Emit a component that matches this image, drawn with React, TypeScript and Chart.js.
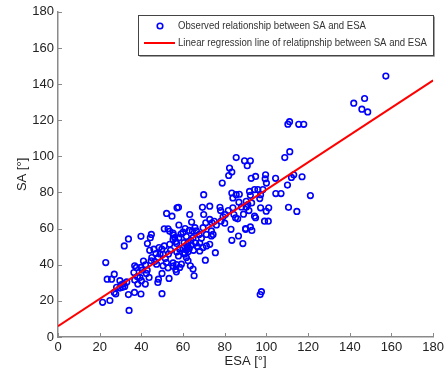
import React, { useEffect, useRef } from "react";
import { Chart, registerables } from "chart.js";

Chart.register(...registerables);

const esaValues: number[] = [
  157.3, 141.9, 147.1, 145.8, 148.6, 110.3, 111.1, 115.5, 117.9, 108.8,
  111.2, 113.1, 112, 117.1, 121.1, 110.1, 104.5, 107, 104.4, 110.6,
  114.6, 99.6, 99.4, 100, 101.1, 99.9, 99.1, 100.9, 97.2, 98.3,
  95.9, 94.3, 96.8, 94.8, 92.3, 89.5, 90.8, 92.7, 91.9, 92.3,
  90.3, 91.1, 90.3, 91.6, 92.9, 94.3, 94.8, 97.2, 90, 92.3,
  93, 88.7, 86.2, 86.6, 85.2, 83.9, 84.4, 85.5, 83.4, 83.9,
  82.3, 83.4, 81.9, 85.5, 86.8, 83, 83.4, 81.7, 78.8, 77.7,
  78.2, 79.2, 80.3, 75.5, 73.6, 74.4, 73.6, 72.8, 73.9, 72.8,
  69.9, 69.3, 69.9, 70.9, 69.6, 71.2, 68.8, 71.2, 69.6, 68,
  70.7, 72.8, 65.7, 66.4, 67.7, 63.2, 64.1, 64.5, 64.8, 63.7,
  62.4, 61.6, 60.5, 59.9, 61.6, 62.5, 60.8, 64.8, 63.5, 65.3,
  62.4, 61.6, 60.8, 58.4, 59.2, 57.8, 58.4, 57.1, 57.8, 55.2,
  56, 56.5, 55.3, 55.2, 56.9, 54.7, 52.1, 52.8, 51, 53.6,
  51, 53.6, 49.8, 48.5, 50.4, 51.5, 52, 50.4, 52.8, 55.2,
  56.8, 56.5, 55.2, 56.8, 53.3, 49.9, 48.2, 47.9, 49.9, 46,
  47, 46.4, 47.3, 44.8, 44.3, 42.9, 44.7, 43.7, 42.4, 42.8,
  41.9, 39.8, 39.8, 40.4, 39.3, 40, 39.8, 36.8, 37.6, 36.4,
  38.1, 36.8, 38.3, 36.7, 33.8, 31.8, 33.8, 34.1, 31.5, 33,
  32, 30.5, 31, 29.7, 28.1, 27, 27.7, 27, 25.7, 23.6,
  22.9, 24.9, 21.4, 29.7, 97.6, 97, 58, 59, 60, 62,
  63, 64, 66, 65, 67, 68, 45, 48, 49, 53,
  54, 57, 63, 61, 58, 75, 76, 78, 80, 88,
  89, 90, 87, 44, 41, 42,
];

const saValues: number[] = [
  144.4, 129.4, 132, 126.1, 124.6, 117.8, 119.2, 117.7, 117.7, 99.3,
  102.6, 89.8, 88.3, 88.7, 78.3, 84.1, 79.4, 79.4, 87.8, 71.8,
  69.5, 89.8, 87.6, 85.2, 71.5, 69.6, 64.1, 64.1, 78.8, 81.6,
  81.6, 81.6, 76.6, 88.9, 97.5, 97.5, 94.8, 87.8, 80.6, 78.4,
  75.1, 73.3, 71.8, 70, 74.2, 66.9, 66, 71.5, 59.6, 60.9,
  59, 51.7, 65.4, 55.9, 66, 71.5, 67.8, 78.8, 79.7, 77,
  93.5, 91.3, 89.4, 99.3, 74.6, 59.6, 53.5, 70, 85.2, 71.8,
  64.1, 66.5, 67.8, 46.7, 58.7, 56.8, 55.9, 65.1, 63.2, 72.4,
  78.8, 71.8, 67.8, 63.2, 60.5, 56.8, 54.6, 50.4, 49.5, 47.6,
  42.5, 51.3, 60.5, 58.7, 56.8, 67.8, 63.6, 58.7, 55, 53.5,
  52.2, 55.6, 52.2, 49.1, 48.2, 47.3, 46.7, 37.6, 39.4, 33.9,
  42.2, 44, 45.8, 38.5, 40.3, 44.9, 48.6, 71.5, 71.8, 57.5,
  55, 52.8, 56.5, 54, 51.8, 66.9, 68.4, 59.9, 59.9, 58.5,
  50.4, 51.3, 48.6, 49.5, 45.8, 43.4, 41.2, 39.4, 38.3, 39.2,
  40.1, 37.4, 41, 36.1, 32.4, 35.2, 32, 30.2, 24, 48.6,
  46.2, 41.8, 40.3, 56.8, 55, 51.7, 42.2, 33, 35.2, 37,
  29.3, 55.7, 38.5, 37, 33, 31.2, 23.8, 39.4, 38.5, 35.7,
  33.4, 31.5, 29.3, 24.7, 54.3, 50.4, 23.5, 14.7, 29.5, 30.5,
  28, 29, 27.5, 27.1, 27.5, 24.7, 23.8, 34.8, 32, 32,
  41.2, 20.2, 19.2, 31.2, 25.1, 23.5, 55, 57, 58, 50,
  49, 51, 52, 48, 50, 52, 44, 44, 46, 46,
  48, 47, 59, 60, 62, 64, 62, 70, 63, 72,
  68, 60, 79, 48, 42, 40,
];

const regressionX: number[] = [0, 180];
const regressionY: number[] = [6, 142];

const axisMin = 0;
const axisMax = 180;
const axisStep = 20;

const observedLabel = "Observed relationship between SA and ESA";
const regressionLabel = "Linear regression line of relatipnship between SA and ESA";
const xTitle = "ESA [°]";
const yTitle = "SA [°]";

const FONT = "'Liberation Sans', Arial, Helvetica, sans-serif";
const AXIS_COLOR = "#8a8a8a";

const innerTicksAndLegend = {
  id: "innerTicksAndLegend",
  afterDraw(chart: any) {
    const ctx = chart.ctx;
    const xs = chart.scales.x;
    const ys = chart.scales.y;
    const area = chart.chartArea;
    ctx.save();
    ctx.strokeStyle = AXIS_COLOR;
    ctx.lineWidth = 1;
    ctx.beginPath();
    xs.ticks.forEach((t: any) => {
      const px = Math.round(xs.getPixelForValue(t.value)) + 0.5;
      ctx.moveTo(px, area.bottom);
      ctx.lineTo(px, area.bottom - 4);
    });
    ys.ticks.forEach((t: any) => {
      const py = Math.round(ys.getPixelForValue(t.value)) + 0.5;
      ctx.moveTo(area.left, py);
      ctx.lineTo(area.left + 4, py);
    });
    ctx.stroke();

    // legend box
    const bx = 138.5, by = 15.5, bw = 295, bh = 40;
    ctx.fillStyle = "#ffffff";
    ctx.fillRect(bx, by, bw, bh);
    ctx.strokeStyle = "#a0a0a0";
    ctx.beginPath();
    ctx.moveTo(bx + 1, by + bh + 1);
    ctx.lineTo(bx + bw + 1, by + bh + 1);
    ctx.lineTo(bx + bw + 1, by + 1);
    ctx.stroke();
    ctx.strokeStyle = "#444444";
    ctx.strokeRect(bx, by, bw, bh);

    ctx.strokeStyle = "#0000ff";
    ctx.lineWidth = 1.6;
    ctx.beginPath();
    ctx.arc(160, 26, 2.8, 0, Math.PI * 2);
    ctx.stroke();

    ctx.strokeStyle = "#ff0000";
    ctx.lineWidth = 2;
    ctx.beginPath();
    ctx.moveTo(144, 43);
    ctx.lineTo(175, 43);
    ctx.stroke();

    ctx.fillStyle = "#333333";
    ctx.font = "10px " + FONT;
    ctx.textBaseline = "middle";
    ctx.textAlign = "left";
    ctx.fillText(observedLabel, 178, 26, 188);
    ctx.fillText(regressionLabel, 178, 43, 249);
    ctx.restore();
  },
};

export default function App() {
  const canvasRef = useRef<HTMLCanvasElement | null>(null);

  useEffect(() => {
    const canvas = canvasRef.current;
    if (!canvas) return;
    const points = esaValues.map((x, i) => ({ x, y: saValues[i] }));
    const line = regressionX.map((x, i) => ({ x, y: regressionY[i] }));

    const chart = new Chart(canvas, {
      type: "scatter",
      data: {
        datasets: [
          {
            type: "line",
            label: regressionLabel,
            data: line,
            borderColor: "#ff0000",
            borderWidth: 2,
            pointRadius: 0,
            showLine: true,
            fill: false,
            order: 0,
          } as any,
          {
            label: observedLabel,
            data: points,
            pointStyle: "circle",
            pointRadius: 2.8,
            pointBorderWidth: 1.6,
            borderColor: "#0000ff",
            backgroundColor: "rgba(0,0,0,0)",
            order: 1,
          },
        ],
      },
      options: {
        animation: false,
        responsive: false,
        devicePixelRatio: 1,
        layout: { padding: { top: 9, right: 13, left: 0, bottom: 0 } },
        plugins: {
          legend: { display: false },
          tooltip: { enabled: false },
        },
        scales: {
          x: {
            type: "linear",
            min: axisMin,
            max: axisMax,
            grid: { display: false, drawTicks: false },
            border: { display: true, color: AXIS_COLOR, width: 1.5 },
            ticks: {
              stepSize: axisStep,
              padding: 3,
              color: "#222222",
              font: { family: FONT, size: 13 },
              maxRotation: 0,
            },
            title: {
              display: true,
              text: xTitle,
              color: "#222222",
              font: { family: FONT, size: 13 },
              padding: { top: 0, bottom: 3 },
            },
            afterFit: (s: any) => {
              s.height = 35;
            },
          },
          y: {
            type: "linear",
            min: axisMin,
            max: axisMax,
            grid: { display: false, drawTicks: false },
            border: { display: true, color: AXIS_COLOR, width: 1.5 },
            ticks: {
              stepSize: axisStep,
              padding: 4,
              color: "#222222",
              font: { family: FONT, size: 13 },
            },
            title: {
              display: true,
              text: yTitle,
              color: "#222222",
              font: { family: FONT, size: 13 },
              padding: { top: 15, bottom: 0 },
            },
            afterFit: (s: any) => {
              s.width = 58;
            },
          },
        },
      },
      plugins: [innerTicksAndLegend],
    });
    return () => chart.destroy();
  }, []);

  return (
    <div style={{ position: "fixed", left: 0, top: 0, width: 447, height: 372, background: "#fff" }}>
      <canvas ref={canvasRef} width={447} height={372} style={{ width: 447, height: 372 }} />
    </div>
  );
}
